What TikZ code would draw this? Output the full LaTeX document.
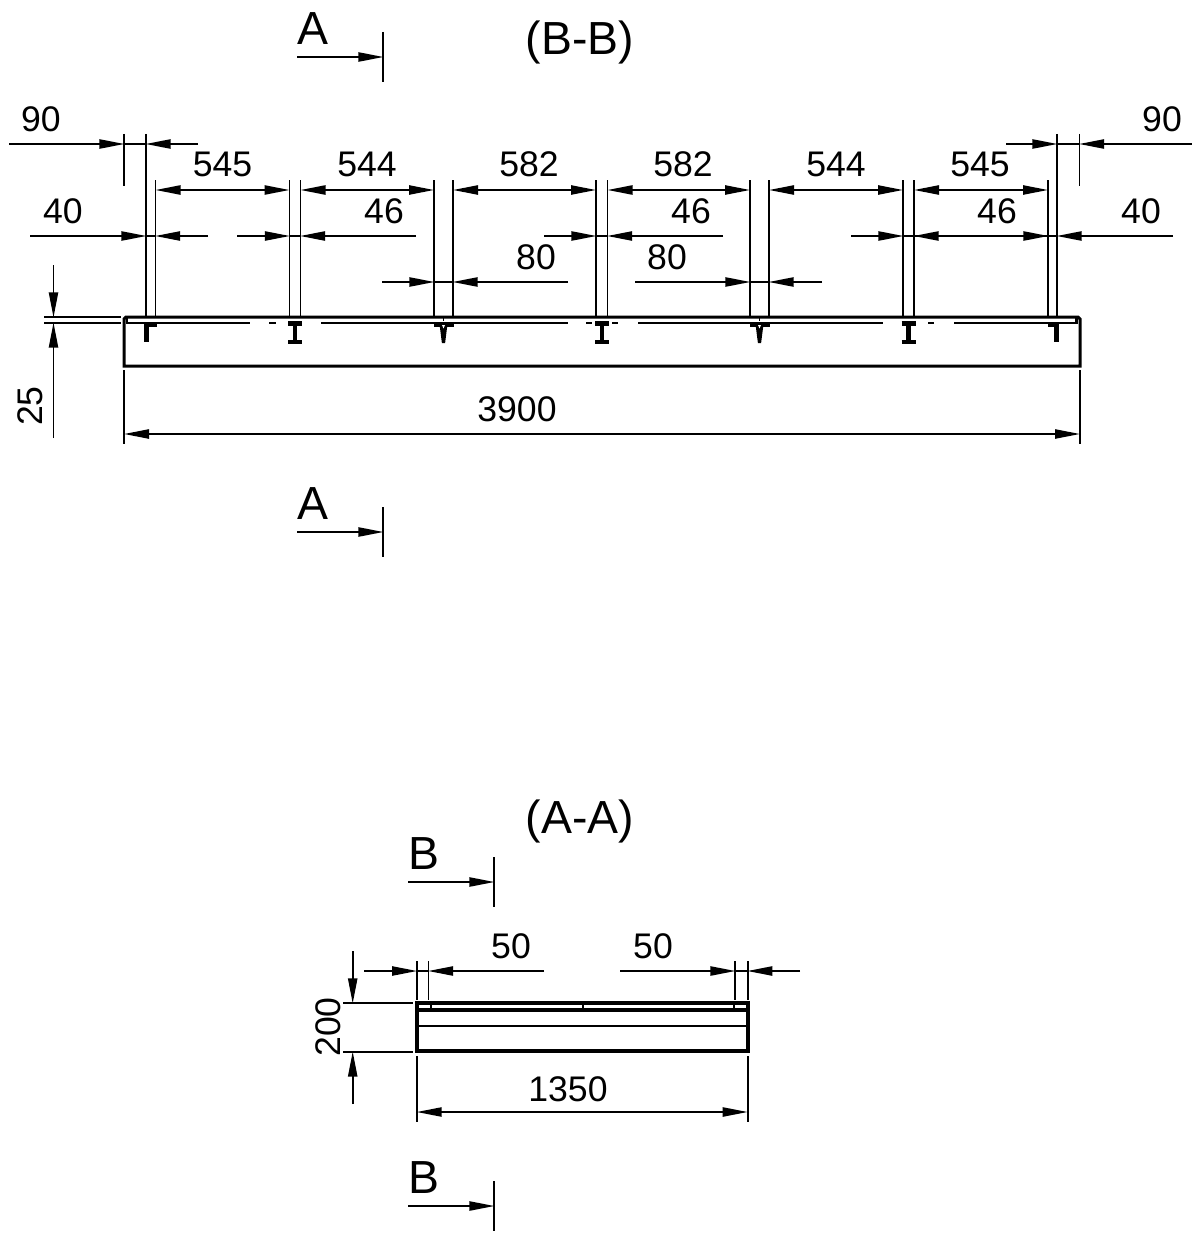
\documentclass[tikz,border=0pt]{standalone}
\usepackage{fontspec}
\setmainfont{Liberation Sans}
\usetikzlibrary{arrows.meta}
\tikzset{
  thin line/.style={line width=0.85pt},
  dimline/.style={thin line,-{Triangle[length=12.5pt,width=4.6pt]},shorten >=-0.2pt},
  dimboth/.style={thin line,{Triangle[length=12.5pt,width=4.6pt]}-{Triangle[length=12.5pt,width=4.6pt]}},
  extline/.style={thin line},
  heavy/.style={line width=1.5pt},
  medium/.style={line width=1.25pt},
  prof/.style={line width=2.1pt},
  dimtext/.style={inner sep=0pt,anchor=base,font=\fontsize{17.8}{20}\selectfont},
  sectext/.style={inner sep=0pt,anchor=base,font=\fontsize{23.2}{26}\selectfont},
}
% inward-pointing dimension pair at height y: from a to b, and from d to c
\newcommand{\inwarddim}[5]{%
  \draw[dimline] (#2,#1) -- (#3,#1);
  \draw[dimline] (#5,#1) -- (#4,#1);
  \draw[extline] (#3,#1) -- (#4,#1);}
\newcommand{\secmark}[3]{% x of bar, y of arrow
  \draw[dimline] (#1-86,#2) -- (#1,#2);
  \draw[extline] (#1,#2-25) -- (#1,#2+25);
  \node[sectext] (#3) at (#1-70,#2-12.5) {\ifnum#1<400 A\else B\fi};}
\newcommand{\profT}[3]{% web x, flange x0, x1
  \draw[prof] (#1,323) -- (#1,342);
  \draw[prof] (#2,324.5) -- (#3,324.5);}
\newcommand{\profY}[1]{%
  \draw[prof] (#1-10,325) -- (#1+10,325);
  \fill (#1-4,324) -- (#1+4,324) -- (#1+1.6,343) -- (#1-1.6,343) -- cycle;
  \draw[extline] (#1,317) -- (#1,321);
  \fill[white] (#1-1.5,325) -- (#1+1.5,325) -- (#1,328.5) -- cycle;}
\newcommand{\profI}[1]{%
  \draw[prof] (#1-7,323.5) -- (#1+7,323.5);
  \draw[prof] (#1,323) -- (#1,342);
  \draw[prof] (#1-7,342) -- (#1+7,342);}
\begin{document}
\begin{tikzpicture}[x=0.5pt,y=-0.5pt]
\useasboundingbox (0,0) rectangle (1192,1236);
\fill[white] (0,0) rectangle (1192,1236);
% ---- section B-B ----
\node[sectext] (titleB) at (580,55) {(B-B)};
\secmark{383}{57}{secAtop}
\secmark{383}{532}{secAbot}
% beam
\draw[heavy] (124,366) -- (124,319) -- (126,317) -- (1078,317) -- (1080,319) -- (1080,366) -- cycle;
\draw[medium] (127,317) -- (127,323) -- (250,323);
\draw[medium] (269,323) -- (276,323);
\draw[medium] (321,323) -- (568,323);
\draw[medium] (586,323) -- (592,323);
\draw[medium] (603,323) -- (608,323);
\draw[medium] (612,323) -- (618,323);
\draw[medium] (638,323) -- (883,323);
\draw[medium] (928,323) -- (934,323);
\draw[medium] (954,323) -- (1076.5,323) -- (1076.5,317);
% profiles
\profT{146.5}{146}{157}
\profI{295}
\profY{443.5}
\profI{602}
\profY{759.5}
\profI{908.5}
\profT{1056.5}{1048}{1057}
% extension lines
\draw[extline] (124,134) -- (124,186);
\draw[extline] (146,134) -- (146,317);
\draw[extline] (155.5,180) -- (155.5,317);
\draw[extline] (289.5,180) -- (289.5,317);
\draw[extline] (300.5,180) -- (300.5,317);
\draw[extline] (434,180) -- (434,317);
\draw[extline] (453,180) -- (453,317);
\draw[extline] (596,180) -- (596,317);
\draw[extline] (607.5,180) -- (607.5,317);
\draw[extline] (750,180) -- (750,317);
\draw[extline] (769,180) -- (769,317);
\draw[extline] (903,180) -- (903,317);
\draw[extline] (914,180) -- (914,317);
\draw[extline] (1048,180) -- (1048,317);
\draw[extline] (1057,134) -- (1057,317);
\draw[extline] (1079.5,134) -- (1079.5,186);
% 90
\inwarddim{144}{9}{124}{146}{198}
\inwarddim{144}{1006}{1057}{1079.5}{1192}
\node[dimtext] (t90l) at (41,132) {90};
\node[dimtext] (t90r) at (1162,132) {90};
% row 190
\draw[dimboth] (155.5,190) -- (289.5,190);
\draw[dimboth] (300.5,190) -- (434,190);
\draw[dimboth] (453,190) -- (596,190);
\draw[dimboth] (607.5,190) -- (750,190);
\draw[dimboth] (769,190) -- (903,190);
\draw[dimboth] (914,190) -- (1048,190);
\node[dimtext] (t545a) at (222.5,176.5) {545};
\node[dimtext] (t544a) at (367,176.5) {544};
\node[dimtext] (t582a) at (529,176.5) {582};
\node[dimtext] (t582b) at (683,176.5) {582};
\node[dimtext] (t544b) at (836,176.5) {544};
\node[dimtext] (t545b) at (980,176.5) {545};
% row 236
\inwarddim{236}{30}{146}{155.5}{208}
\inwarddim{236}{237}{289.5}{300.5}{416}
\inwarddim{236}{544}{596}{607.5}{723}
\inwarddim{236}{851}{903}{914}{1048}
\draw[dimline] (914,236) -- (1048,236);
\draw[dimline] (1173,236) -- (1057,236);
\draw[extline] (1048,236) -- (1057,236);
\node[dimtext] (t40l) at (63,223.5) {40};
\node[dimtext] (t46a) at (384,223.5) {46};
\node[dimtext] (t46b) at (691,223.5) {46};
\node[dimtext] (t46c) at (997,223.5) {46};
\node[dimtext] (t40r) at (1141,223.5) {40};
% row 282
\inwarddim{282}{382}{434}{453}{568}
\inwarddim{282}{635}{750}{769}{822}
\node[dimtext] (t80a) at (536,269.5) {80};
\node[dimtext] (t80b) at (667,269.5) {80};
% 25
\draw[extline] (44,317) -- (121,317);
\draw[extline] (44,323) -- (121,323);
\draw[dimline] (53.5,265) -- (53.5,317);
\draw[dimline] (53.5,438) -- (53.5,323);
\node[dimtext,rotate=90] (t25) at (42,406) {25};
% 3900
\draw[extline] (124,370) -- (124,444);
\draw[extline] (1080,370) -- (1080,444);
\draw[dimboth] (124,434) -- (1080,434);
\node[dimtext] (t3900) at (517,421) {3900};
% ---- section A-A ----
\node[sectext] (titleA) at (580,833) {(A-A)};
\secmark{494}{882}{secBtop}
\secmark{494}{1206}{secBbot}
\draw[line width=1.8pt] (417,1003) rectangle (748,1051);
\draw[line width=1.8pt] (417,1010) -- (748,1010);
\draw[medium] (417,1026) -- (748,1026);
\draw[medium] (431,1003) -- (431,1010);
\draw[medium] (734,1003) -- (734,1010);
\draw[extline] (583,1003) -- (583,1010);
% 50
\draw[extline] (416.7,961) -- (416.7,1000);
\draw[extline] (428.5,961) -- (428.5,1000);
\draw[extline] (735,961) -- (735,1000);
\draw[extline] (747.7,961) -- (747.7,1000);
\inwarddim{971}{364}{416.7}{428.5}{544}
\inwarddim{971}{620}{735}{747.7}{800}
\node[dimtext] (t50a) at (511,958) {50};
\node[dimtext] (t50b) at (653,958) {50};
% 200
\draw[extline] (343,1003) -- (413,1003);
\draw[extline] (343,1052) -- (413,1052);
\draw[dimline] (352.7,951) -- (352.7,1003);
\draw[dimline] (352.7,1104) -- (352.7,1052);
\node[dimtext,rotate=90] (t200) at (340,1027) {200};
% 1350
\draw[extline] (416.7,1056) -- (416.7,1122);
\draw[extline] (747.7,1056) -- (747.7,1122);
\draw[dimboth] (416.7,1112) -- (747.7,1112);
\node[dimtext] (t1350) at (568,1101) {1350};
\end{tikzpicture}
\end{document}
